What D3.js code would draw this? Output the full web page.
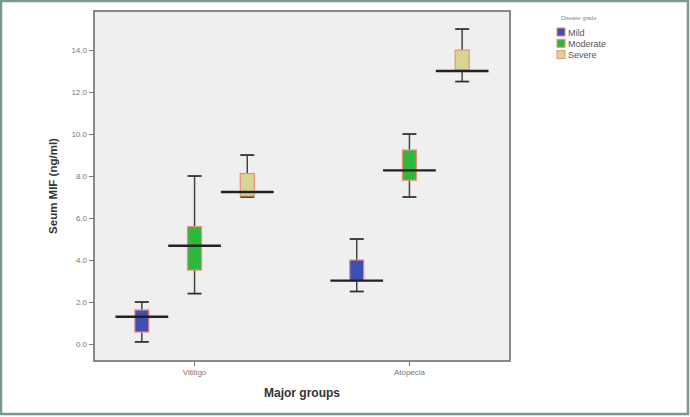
<!DOCTYPE html>
<html>
<head>
<meta charset="utf-8">
<script src="https://cdnjs.cloudflare.com/ajax/libs/d3/7.8.5/d3.min.js"></script>
<style>
  body { margin: 0; background: #fff; }
  svg { display: block; font-family: "Liberation Sans", Arial, sans-serif; }
</style>
</head>
<body>
<svg id="chart" width="690" height="417"></svg>
<script>
// data
var groups = ["Vitiligo", "Atopecia"];
var grades = ["Mild", "Moderate", "Severe"];
var gradeColors = ["#3e4fb4", "#2fb83c", "#d9d494"];
// [min, q1, median, q3, max] per group, per grade
var vitiligoStats = [
  [0.1, 0.57, 1.3, 1.62, 2.0],
  [2.4, 3.52, 4.68, 5.59, 8.0],
  [7.0, 7.05, 7.24, 8.12, 9.0]
];
var atopeciaStats = [
  [2.5, 3.0, 3.02, 4.0, 5.0],
  [7.0, 7.8, 8.27, 9.24, 10.0],
  [12.5, 13.05, 13.0, 14.0, 15.0]
];
var yTicks = [0, 2, 4, 6, 8, 10, 12, 14];

var rows = [];
[vitiligoStats, atopeciaStats].forEach(function(stats, gi) {
  stats.forEach(function(s, k) {
    rows.push({group: groups[gi], grade: grades[k], min: s[0], q1: s[1], med: s[2], q3: s[3], max: s[4]});
  });
});

var svg = d3.select("#chart");

// outer frame
svg.append("rect")
    .attr("x", 1).attr("y", 1).attr("width", 687).attr("height", 413)
    .attr("fill", "#fff")
    .attr("stroke", "#7d978c")
    .attr("stroke-width", 2.5);

var plot = {left: 94, right: 510, top: 11, bottom: 361};

var y = d3.scaleLinear()
    .domain([-0.81, 15.86])
    .range([plot.bottom, plot.top]);

var x0 = d3.scaleBand()
    .domain(groups)
    .range([plot.left, plot.right])
    .paddingInner(0.264)
    .paddingOuter(0.1);

var x1 = d3.scaleBand()
    .domain(grades)
    .range([0, x0.bandwidth()]);

var color = d3.scaleOrdinal().domain(grades).range(gradeColors);

// plot background
svg.append("rect")
    .attr("x", plot.left).attr("y", plot.top)
    .attr("width", plot.right - plot.left).attr("height", plot.bottom - plot.top)
    .attr("fill", "#f0eff0")
    .attr("stroke", "#6f6f6f")
    .attr("stroke-width", 1.6);

// axes
var yAxis = svg.append("g")
    .attr("transform", "translate(" + plot.left + ",0)")
    .call(d3.axisLeft(y).tickValues(yTicks).tickFormat(d3.format(".1f")).tickSize(5).tickPadding(2));
yAxis.select(".domain").remove();
yAxis.selectAll("line").attr("stroke", "#777");
yAxis.selectAll("text").attr("fill", "#777").style("font-size", "8px");

var xAxis = svg.append("g")
    .attr("transform", "translate(0," + plot.bottom + ")")
    .call(d3.axisBottom(x0).tickSize(5).tickPadding(3));
xAxis.select(".domain").remove();
xAxis.selectAll("line").attr("stroke", "#777");
xAxis.selectAll("text").attr("fill", "#777").style("font-size", "8px");

// axis titles
svg.append("text")
    .attr("transform", "translate(57,186) rotate(-90)")
    .attr("text-anchor", "middle")
    .attr("fill", "#333")
    .style("font-size", "11.5px")
    .style("font-weight", "bold")
    .text("Seum MIF (ng/ml)");

svg.append("text")
    .attr("x", (plot.left + plot.right) / 2)
    .attr("y", 397)
    .attr("text-anchor", "middle")
    .attr("fill", "#333")
    .style("font-size", "12px")
    .style("font-weight", "bold")
    .text("Major groups");

// boxes
var boxW = 14;
var box = svg.append("g").selectAll("g")
    .data(rows)
    .join("g")
    .attr("transform", function(d) {
      return "translate(" + (x0(d.group) + x1(d.grade) + x1.bandwidth() / 2) + ",0)";
    });

box.append("line")
    .attr("y1", function(d) { return y(d.max); })
    .attr("y2", function(d) { return y(d.min); })
    .attr("stroke", "#444").attr("stroke-width", 1.5);

box.append("line")
    .attr("x1", -boxW / 2).attr("x2", boxW / 2)
    .attr("y1", function(d) { return y(d.max); })
    .attr("y2", function(d) { return y(d.max); })
    .attr("stroke", "#333").attr("stroke-width", 1.8);

box.append("line")
    .attr("x1", -boxW / 2).attr("x2", boxW / 2)
    .attr("y1", function(d) { return y(d.min); })
    .attr("y2", function(d) { return y(d.min); })
    .attr("stroke", "#333").attr("stroke-width", 1.8);

box.append("rect")
    .attr("x", -boxW / 2)
    .attr("width", boxW)
    .attr("y", function(d) { return y(d.q3); })
    .attr("height", function(d) { return y(d.q1) - y(d.q3); })
    .attr("fill", function(d) { return color(d.grade); })
    .attr("stroke", "#ec8f7a").attr("stroke-width", 1.2);

box.append("line")
    .attr("x1", -x1.bandwidth() / 2).attr("x2", x1.bandwidth() / 2)
    .attr("y1", function(d) { return y(d.med); })
    .attr("y2", function(d) { return y(d.med); })
    .attr("stroke", "#222").attr("stroke-width", 2.4);

// legend
var legend = svg.append("g").attr("transform", "translate(557,20)");
legend.append("text")
    .attr("x", 4).attr("y", 0)
    .attr("fill", "#888")
    .style("font-size", "5.5px")
    .text("Disease grade");

var item = legend.selectAll("g.item")
    .data(grades)
    .join("g")
    .attr("class", "item")
    .attr("transform", function(d, i) { return "translate(0," + (8 + i * 11.3) + ")"; });

item.append("rect")
    .attr("width", 8).attr("height", 8)
    .attr("fill", function(d) { return color(d); })
    .attr("stroke", "#ec8f7a").attr("stroke-width", 1);

item.append("text")
    .attr("x", 11).attr("y", 7.5)
    .attr("fill", "#555")
    .style("font-size", "9px")
    .text(function(d) { return d; });
</script>
</body>
</html>
